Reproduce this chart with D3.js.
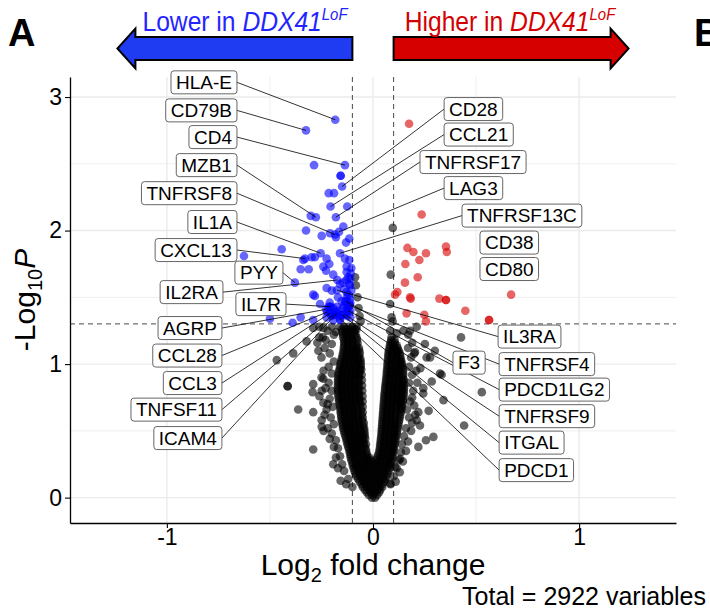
<!DOCTYPE html>
<html>
<head>
<meta charset="utf-8">
<script src="https://cdn.jsdelivr.net/npm/d3@7"></script>
<style>
body { margin: 0; background: #fff; }
svg { display: block; }
</style>
</head>
<body>
<script>
// Volcano plot, panel A: DDX41 LoF vs rest

// axis ticks and cut-offs
var xTicks = [-1, 0, 1];
var yTicks = [0, 1, 2, 3];
var fcCutoff = 0.1;
var pCutoff = 0.05;
var totalVariables = 2922;

// labelled genes (log2 fold change, -log10 p)
var labelGenes = ["HLA-E", "CD79B", "CD4", "MZB1", "TNFRSF8", "IL1A", "CXCL13", "PYY", "IL2RA", "IL7R",
    "AGRP", "CCL28", "CCL3", "TNFSF11", "ICAM4",
    "CD28", "CCL21", "TNFRSF17", "LAG3", "TNFRSF13C", "CD38", "CD80",
    "IL3RA", "F3", "TNFRSF4", "PDCD1LG2", "TNFRSF9", "ITGAL", "PDCD1"];
var labelFC = [-0.183, -0.325, -0.136, -0.277, -0.184, -0.254, -0.33, -0.379, -0.173, -0.205,
    -0.228, -0.222, -0.209, -0.193, -0.176,
    -0.15, -0.206, -0.18, -0.165, -0.16, 0.354, 0.358,
    -0.175, -0.13, -0.115, -0.12, -0.135, -0.15, -0.16];
var labelLP = [2.83, 2.75, 2.49, 2.10, 1.97, 1.83, 1.79, 1.61, 1.63, 1.43,
    1.41, 1.39, 1.38, 1.37, 1.38,
    2.33, 2.18, 2.10, 1.99, 1.83, 1.88, 1.84,
    1.554, 1.47, 1.44, 1.40, 1.37, 1.37, 1.34];
// where the repelled label boxes sit (data units, edge facing the point)
var labelAtFC = [-0.66, -0.66, -0.66, -0.66, -0.66, -0.66, -0.66, -0.437, -0.728, -0.422,
    -0.733, -0.733, -0.733, -0.733, -0.733,
    0.345, 0.345, 0.228, 0.345, 0.432, 0.519, 0.519,
    0.607, 0.388, 0.612, 0.612, 0.612, 0.612, 0.612];
var labelAtLP = [3.11, 2.90, 2.70, 2.49, 2.28, 2.064, 1.854, 1.685, 1.539, 1.449,
    1.27, 1.064, 0.858, 0.659, 0.446,
    2.91, 2.719, 2.513, 2.318, 2.112, 1.91, 1.712,
    1.206, 1.011, 1.0, 0.809, 0.61, 0.412, 0.206];
var noSegment = ["CD38", "CD80"];

// other genes [log2 fc, -log10 p]
var genes = [
    // lower
    [-0.286,2.49],[-0.157,2.41],[-0.157,2.41],[-0.215,2.28],[-0.189,2.28],[-0.125,2.18],[-0.302,2.11],[-0.144,2.03],
    [-0.325,2.0],[-0.249,1.96],[-0.209,1.98],[-0.18,1.95],[-0.131,1.91],[-0.115,1.94],[-0.443,1.86],[-0.626,1.81],
    [-0.282,1.80],[-0.225,1.79],[-0.136,1.79],[-0.115,1.78],[-0.351,1.71],[-0.312,1.71],[-0.212,1.75],[-0.128,1.73],
    [-0.128,1.69],[-0.108,1.68],[-0.228,1.70],[-0.193,1.67],[-0.147,1.61],[-0.115,1.60],[-0.225,1.57],[-0.282,1.51],
    [-0.128,1.50],[-0.152,1.47],[-0.209,1.43],[-0.176,1.43],[-0.5,1.34],[-0.39,1.31],[-0.351,1.35],[-0.29,1.33],
    [-0.257,1.45],[-0.217,1.43],[-0.193,1.42],[-0.168,1.40],[-0.209,1.39],[-0.184,1.37],[-0.152,1.37],[-0.128,1.40],
    [-0.112,1.44],[-0.225,1.35],[-0.16,1.33],[-0.193,1.33],[-0.112,1.49],[-0.128,1.54],[-0.112,1.59],[-0.16,1.60],
    [-0.241,1.73],[-0.338,1.78],[-0.298,1.80],[-0.29,1.52],[-0.2,1.55],[-0.14,1.56],[-0.12,1.65],[-0.135,1.47],
    [-0.145,1.42],[-0.125,1.36],[-0.11,1.35],[-0.17,1.50],[-0.105,1.72],[-0.11,1.64],[-0.13,1.63],[-0.105,1.55],
    [-0.12,1.52],[-0.11,1.46],[-0.14,1.44],[-0.125,1.42],[-0.18,1.39],[-0.2,1.36],[-0.165,1.36],[-0.21,1.46],
    [-0.11,1.40],
    // higher
    [0.175,2.80],[0.236,2.12],[0.167,1.87],[0.196,1.84],[0.257,1.83],[0.225,1.78],[0.157,1.75],[0.217,1.65],
    [0.155,1.61],[0.118,1.54],[0.107,1.52],[0.183,1.49],[0.322,1.49],[0.354,1.48],[0.354,1.48],[0.67,1.52],
    [0.448,1.40],[0.563,1.33],[0.563,1.33],[0.163,1.38],[0.249,1.37],[0.257,1.32],[0.18,1.50],
    // not significant, scattered
    [0.096,2.02],[0.086,1.67],[0.083,1.45],[0.09,1.35],[-0.087,1.65],[-0.083,1.59],[-0.075,1.5],[-0.07,1.42],
    [-0.065,1.36],[-0.06,1.32],[0.095,1.32],
    [-0.29,1.27],[-0.26,1.2],[-0.322,1.17],[-0.244,1.2],[-0.387,1.08],[-0.467,1.03],[-0.265,1.1],[-0.414,0.835],
    [-0.414,0.835],[-0.29,0.85],[-0.293,0.79],[-0.249,0.80],[-0.241,0.89],[-0.241,0.71],[-0.363,0.66],[-0.29,0.64],
    [-0.249,0.58],[-0.249,0.53],[-0.29,0.36],[-0.193,0.25],[-0.157,0.126],[-0.22,1.25],[-0.2,1.28],[-0.24,1.27],
    [-0.18,1.24],[-0.26,1.28],
    [0.083,1.25],[0.147,1.25],[0.18,1.25],[0.252,1.15],[0.204,1.09],[0.26,1.05],[0.333,0.92],[0.285,0.87],
    [0.244,0.78],[0.212,0.58],[0.228,0.54],[0.257,0.43],[0.22,0.38],[0.131,0.29],[0.107,0.23],[0.131,0.71],
    [0.427,1.2],[0.528,0.79],[0.442,0.54],[0.325,0.93],[0.342,0.73],[0.171,1.22],[0.212,1.28],[0.115,1.23],
    [0.277,1.05],[0.244,0.82],[0.293,0.455],[0.083,0.106],[0.23,0.97],[0.27,0.65],[0.3,1.1],
    // edges of the dense cloud
    [-0.19,1.22],[-0.2,1.15],[-0.21,1.08],[-0.19,1.02],[-0.215,0.98],[-0.2,0.93],[-0.215,0.86],[-0.2,0.8],
    [-0.21,0.74],[-0.195,0.68],[-0.205,0.6],[-0.19,0.55],[-0.2,0.48],[-0.18,0.43],[-0.17,0.37],[-0.16,0.31],
    [-0.15,0.25],[-0.14,0.2],[-0.12,0.14],[-0.1,0.08],[-0.235,1.12],[-0.24,0.95],[-0.23,0.82],[-0.25,1.05],
    [-0.225,0.66],[-0.22,0.52],[-0.23,1.18],[-0.25,0.9],[-0.22,0.7],[-0.235,0.62],[-0.21,0.44],[-0.19,0.38],
    [-0.18,0.3],[-0.26,0.76],[-0.24,0.5],[-0.17,0.22],[-0.13,0.1],[-0.27,1.16],
    [0.17,1.12],[0.185,1.05],[0.175,0.98],[0.19,0.92],[0.175,0.86],[0.195,0.8],[0.18,0.72],[0.165,0.66],
    [0.175,0.6],[0.16,0.52],[0.15,0.46],[0.14,0.4],[0.135,0.34],[0.125,0.28],[0.115,0.22],[0.1,0.16],
    [0.085,0.1],[0.21,0.95],[0.2,0.69],[0.19,1.16],[0.205,0.62],[0.2,1.08],[0.215,0.86],[0.19,0.75],
    [0.19,0.56],[0.17,0.42],[0.16,0.35],[0.145,0.27],[0.13,0.19],[0.11,0.12],[0.22,0.64],[0.185,0.5]
];

// dense V shaped cloud: [-log10 p, [log2 fc, ...]]
var coreRows = [
    [0.00, [-0.005, 0.01]],
    [0.02, [-0.02, 0.0, 0.02]],
    [0.04, [-0.03, -0.01, 0.01, 0.03]],
    [0.06, [-0.04, -0.02, 0, 0.02, 0.035]],
    [0.08, [-0.05, -0.03, -0.01, 0.01, 0.03, 0.045]],
    [0.10, [-0.055, -0.035, -0.015, 0.005, 0.025, 0.045]],
    [0.12, [-0.065, -0.045, -0.025, -0.005, 0.015, 0.035, 0.055]],
    [0.14, [-0.072, -0.052, -0.032, -0.012, 0.008, 0.028, 0.048, 0.06]],
    [0.16, [-0.08, -0.06, -0.04, -0.02, 0, 0.02, 0.04, 0.065]],
    [0.18, [-0.085, -0.065, -0.045, -0.025, -0.005, 0.015, 0.035, 0.055, 0.07]],
    [0.20, [-0.09, -0.07, -0.05, -0.03, -0.01, 0.01, 0.03, 0.05, 0.075]],
    [0.22, [-0.094, -0.074, -0.054, -0.034, -0.014, 0.006, 0.026, 0.046, 0.066, 0.08]],
    [0.24, [-0.098, -0.078, -0.058, -0.038, -0.018, 0.002, 0.022, 0.042, 0.062, 0.082]],
    [0.26, [-0.1, -0.08, -0.06, -0.04, -0.02, 0.0, 0.02, 0.04, 0.06, 0.08, 0.088]],
    [0.28, [-0.105, -0.085, -0.065, -0.045, -0.025, -0.01, 0.015, 0.032, 0.052, 0.072, 0.09]],
    [0.30, [-0.108, -0.088, -0.068, -0.048, -0.028, -0.018, 0.02, 0.04, 0.06, 0.08, 0.093]],
    [0.32, [-0.11, -0.09, -0.07, -0.05, -0.03, 0.025, 0.045, 0.065, 0.085, 0.096]],
    [0.34, [-0.113, -0.093, -0.073, -0.053, -0.032, 0.03, 0.05, 0.07, 0.09, 0.098]],
    [0.36, [-0.116, -0.096, -0.076, -0.056, -0.034, 0.032, 0.052, 0.072, 0.092, 0.1]],
    [0.38, [-0.12, -0.1, -0.08, -0.06, -0.04, 0.034, 0.054, 0.074, 0.094, 0.102]],
    [0.40, [-0.124, -0.104, -0.084, -0.064, -0.044, -0.034, 0.035, 0.055, 0.075, 0.095, 0.105]],
    [0.42, [-0.127, -0.107, -0.087, -0.067, -0.047, 0.037, 0.057, 0.077, 0.097, 0.108]],
    [0.44, [-0.13, -0.11, -0.09, -0.07, -0.05, -0.038, 0.038, 0.058, 0.078, 0.098, 0.11]],
    [0.46, [-0.134, -0.114, -0.094, -0.074, -0.054, -0.04, 0.04, 0.06, 0.08, 0.1, 0.112]],
    [0.48, [-0.138, -0.118, -0.098, -0.078, -0.058, -0.041, 0.041, 0.061, 0.081, 0.101, 0.115]],
    [0.50, [-0.141, -0.121, -0.101, -0.081, -0.061, -0.042, 0.042, 0.062, 0.082, 0.102, 0.117]],
    [0.52, [-0.145, -0.125, -0.105, -0.085, -0.065, -0.043, 0.043, 0.063, 0.083, 0.103, 0.12]],
    [0.54, [-0.147, -0.127, -0.107, -0.087, -0.067, -0.047, 0.044, 0.064, 0.084, 0.104, 0.122]],
    [0.56, [-0.15, -0.13, -0.11, -0.09, -0.07, -0.045, 0.045, 0.065, 0.085, 0.105, 0.125]],
    [0.58, [-0.152, -0.132, -0.112, -0.092, -0.072, -0.052, 0.046, 0.066, 0.086, 0.106, 0.127]],
    [0.60, [-0.154, -0.134, -0.114, -0.094, -0.074, -0.05, 0.047, 0.067, 0.087, 0.107, 0.13]],
    [0.62, [-0.155, -0.135, -0.115, -0.095, -0.075, -0.055, 0.048, 0.068, 0.088, 0.108, 0.132]],
    [0.64, [-0.157, -0.137, -0.117, -0.097, -0.077, -0.05, 0.049, 0.069, 0.089, 0.109, 0.135]],
    [0.66, [-0.158, -0.138, -0.118, -0.098, -0.078, -0.058, 0.05, 0.07, 0.09, 0.11, 0.13, 0.138]],
    [0.68, [-0.16, -0.14, -0.12, -0.1, -0.08, -0.05, 0.051, 0.071, 0.091, 0.111, 0.14]],
    [0.70, [-0.162, -0.142, -0.122, -0.102, -0.082, -0.062, 0.052, 0.072, 0.092, 0.112, 0.132, 0.142]],
    [0.72, [-0.165, -0.145, -0.125, -0.105, -0.085, -0.065, -0.05, 0.053, 0.073, 0.093, 0.113, 0.133, 0.145]],
    [0.74, [-0.166, -0.146, -0.126, -0.106, -0.086, -0.066, 0.054, 0.074, 0.094, 0.114, 0.134, 0.147]],
    [0.76, [-0.168, -0.148, -0.128, -0.108, -0.088, -0.068, -0.051, 0.055, 0.075, 0.095, 0.115, 0.135, 0.148]],
    [0.78, [-0.169, -0.149, -0.129, -0.109, -0.089, -0.069, 0.056, 0.076, 0.096, 0.116, 0.136, 0.15]],
    [0.80, [-0.17, -0.15, -0.13, -0.11, -0.09, -0.07, -0.052, 0.058, 0.078, 0.098, 0.118, 0.138, 0.15]],
    [0.82, [-0.17, -0.15, -0.13, -0.11, -0.09, -0.07, 0.059, 0.079, 0.099, 0.119, 0.139, 0.15]],
    [0.84, [-0.17, -0.15, -0.13, -0.11, -0.09, -0.07, -0.053, 0.06, 0.08, 0.1, 0.12, 0.14, 0.15]],
    [0.86, [-0.17, -0.15, -0.13, -0.11, -0.09, -0.07, 0.062, 0.082, 0.102, 0.122, 0.142]],
    [0.88, [-0.17, -0.15, -0.13, -0.11, -0.09, -0.07, -0.054, 0.063, 0.083, 0.103, 0.123, 0.143, 0.15]],
    [0.90, [-0.169, -0.149, -0.129, -0.109, -0.089, -0.069, 0.065, 0.085, 0.105, 0.125, 0.145]],
    [0.92, [-0.168, -0.148, -0.128, -0.108, -0.088, -0.068, -0.055, 0.066, 0.086, 0.106, 0.126, 0.147]],
    [0.94, [-0.166, -0.146, -0.126, -0.106, -0.086, -0.066, 0.067, 0.087, 0.107, 0.127, 0.146]],
    [0.96, [-0.163, -0.143, -0.123, -0.103, -0.083, -0.063, -0.057, 0.068, 0.088, 0.108, 0.128, 0.145]],
    [0.98, [-0.16, -0.14, -0.12, -0.1, -0.08, -0.06, 0.07, 0.09, 0.11, 0.13, 0.142]],
    [1.00, [-0.158, -0.138, -0.118, -0.098, -0.078, -0.059, 0.07, 0.09, 0.11, 0.13, 0.14]],
    [1.02, [-0.155, -0.135, -0.115, -0.095, -0.075, -0.06, 0.072, 0.092, 0.112, 0.132, 0.138]],
    [1.04, [-0.152, -0.132, -0.112, -0.092, -0.072, -0.061, 0.073, 0.093, 0.113, 0.135]],
    [1.06, [-0.148, -0.128, -0.108, -0.088, -0.068, 0.074, 0.094, 0.114, 0.132]],
    [1.08, [-0.146, -0.126, -0.106, -0.086, -0.064, 0.075, 0.095, 0.115, 0.13]],
    [1.10, [-0.142, -0.122, -0.102, -0.082, -0.067, 0.077, 0.097, 0.117, 0.125]],
    [1.12, [-0.142, -0.122, -0.102, -0.082, -0.068, 0.08, 0.1, 0.12]],
    [1.14, [-0.14, -0.12, -0.1, -0.08, 0.082, 0.102, 0.115]],
    [1.16, [-0.14, -0.12, -0.1, -0.075, 0.085, 0.105]],
    [1.18, [-0.14, -0.12, -0.1, -0.078, 0.088, 0.105]],
    [1.20, [-0.145, -0.125, -0.105, -0.08, 0.09]],
    [1.22, [-0.145, -0.125, -0.105, -0.085]],
    [1.24, [-0.15, -0.13, -0.11, -0.09]],
    [1.26, [-0.15, -0.13, -0.11, -0.09, -0.08]],
    [1.28, [-0.16, -0.14, -0.12, -0.1, -0.08]]
];

var font = "'Liberation Sans', Arial, Helvetica, sans-serif";
var blue = "#0000ff", red = "#d60000";

// panel box
var width = 710, height = 613;
var plot = {left: 70, right: 676, top: 77, bottom: 523};

var xScale = d3.scaleLinear().domain([-1.47, 1.47]).range([plot.left, plot.right]);
var yScale = d3.scaleLinear().domain([-0.19, 3.15]).range([plot.bottom, plot.top]);

var svg = d3.select("body").append("svg")
    .attr("width", width)
    .attr("height", height)
    .attr("font-family", font);

// grid, minor lines half way between major ones
function halves(t) {
    var out = [];
    for (var i = 0; i <= t.length; i++) {
        var a = i === 0 ? t[0] - 1 : t[i - 1];
        var b = i === t.length ? t[t.length - 1] + 1 : t[i];
        out.push((a + b) / 2);
    }
    return out;
}
var xDom = xScale.domain(), yDom = yScale.domain();
var xMinor = halves(xTicks).filter(function(v) { return v > xDom[0] && v < xDom[1]; });
var yMinor = halves(yTicks).filter(function(v) { return v > yDom[0] && v < yDom[1]; });

var grid = svg.append("g").attr("fill", "none");
grid.selectAll(".gx").data(xMinor.concat(xTicks)).enter().append("line")
    .attr("x1", function(d) { return xScale(d); })
    .attr("x2", function(d) { return xScale(d); })
    .attr("y1", plot.top).attr("y2", plot.bottom)
    .attr("stroke", "#ebebeb")
    .attr("stroke-width", function(d) { return xTicks.indexOf(d) >= 0 ? 1.4 : 0.8; });
grid.selectAll(".gy").data(yMinor.concat(yTicks)).enter().append("line")
    .attr("y1", function(d) { return yScale(d); })
    .attr("y2", function(d) { return yScale(d); })
    .attr("x1", plot.left).attr("x2", plot.right)
    .attr("stroke", "#ebebeb")
    .attr("stroke-width", function(d) { return yTicks.indexOf(d) >= 0 ? 1.4 : 0.8; });

// cut-off lines
var pLine = -Math.log10(pCutoff);
svg.selectAll(".vcut").data([-fcCutoff, fcCutoff]).enter().append("line")
    .attr("x1", function(d) { return xScale(d); })
    .attr("x2", function(d) { return xScale(d); })
    .attr("y1", plot.top).attr("y2", plot.bottom)
    .attr("stroke", "#333").attr("stroke-width", 0.9).attr("stroke-dasharray", "5,4");
svg.append("line")
    .attr("x1", plot.left).attr("x2", plot.right)
    .attr("y1", yScale(pLine)).attr("y2", yScale(pLine))
    .attr("stroke", "#333").attr("stroke-width", 0.9).attr("stroke-dasharray", "5,4");

// all points in one list
var pts = [];
coreRows.forEach(function(r) {
    r[1].forEach(function(fc) { pts.push({fc: fc, lp: r[0]}); });
});
genes.forEach(function(g) { pts.push({fc: g[0], lp: g[1]}); });
labelGenes.forEach(function(g, i) { pts.push({fc: labelFC[i], lp: labelLP[i], gene: g}); });

function group(d) {
    if (d.lp > pLine && d.fc < -fcCutoff) return "down";
    if (d.lp > pLine && d.fc > fcCutoff) return "up";
    return "ns";
}
var order = {ns: 0, down: 1, up: 1};
pts.sort(function(a, b) { return order[group(a)] - order[group(b)]; });

svg.append("g").selectAll(".dot")
    .data(pts)
    .enter().append("circle")
    .attr("class", "dot")
    .attr("r", 4.3)
    .attr("cx", function(d) { return xScale(d.fc); })
    .attr("cy", function(d) { return yScale(d.lp); })
    .attr("fill", function(d) {
        var g = group(d);
        return g === "down" ? blue : g === "up" ? red : "#000";
    })
    .attr("fill-opacity", 0.6);

// repelled labels
var labels = labelGenes.map(function(g, i) {
    return {gene: g, fc: labelFC[i], lp: labelLP[i], atFc: labelAtFC[i], atLp: labelAtLP[i]};
});
var padX = 5, boxH = 23;

svg.append("g").selectAll("line")
    .data(labels.filter(function(d) { return noSegment.indexOf(d.gene) < 0; }))
    .enter().append("line")
    .attr("x1", function(d) { return xScale(d.atFc); })
    .attr("y1", function(d) { return yScale(d.atLp); })
    .attr("x2", function(d) { return xScale(d.fc); })
    .attr("y2", function(d) { return yScale(d.lp); })
    .attr("stroke", "#000")
    .attr("stroke-width", 0.8);

var lab = svg.append("g").selectAll("g")
    .data(labels)
    .enter().append("g");
var rects = lab.append("rect");
lab.append("text")
    .attr("x", function(d) { return d.atFc < d.fc ? xScale(d.atFc) - padX : xScale(d.atFc) + padX; })
    .attr("y", function(d) { return yScale(d.atLp); })
    .attr("dy", "0.36em")
    .attr("text-anchor", function(d) { return d.atFc < d.fc ? "end" : "start"; })
    .attr("font-size", 19)
    .text(function(d) { return d.gene; })
    .each(function(d) { d.w = this.getComputedTextLength(); });
rects
    .attr("x", function(d) { return d.atFc < d.fc ? xScale(d.atFc) - d.w - 2 * padX : xScale(d.atFc); })
    .attr("y", function(d) { return yScale(d.atLp) - boxH / 2; })
    .attr("width", function(d) { return d.w + 2 * padX; })
    .attr("height", boxH)
    .attr("rx", 3)
    .attr("fill", "#fff")
    .attr("stroke", "#555")
    .attr("stroke-width", 0.9);

// axes
var xAxis = d3.axisBottom(xScale).tickValues(xTicks).tickSize(5).tickPadding(1).tickSizeOuter(0)
    .tickFormat(function(d) { return d < 0 ? "-" + Math.abs(d) : d; });
var yAxis = d3.axisLeft(yScale).tickValues(yTicks).tickSize(5).tickPadding(3).tickSizeOuter(0)
    .tickFormat(d3.format("d"));

var gx = svg.append("g")
    .attr("transform", "translate(0," + plot.bottom + ")")
    .call(xAxis);
var gy = svg.append("g")
    .attr("transform", "translate(" + plot.left + ",0)")
    .call(yAxis);
[gx, gy].forEach(function(g) {
    g.attr("font-family", font).attr("font-size", 23);
    g.select(".domain").attr("stroke", "#000").attr("stroke-width", 1.3);
    g.selectAll(".tick line").attr("stroke", "#000").attr("stroke-width", 1.1);
    g.selectAll(".tick text").attr("fill", "#000");
});

// axis titles
var xt = svg.append("text")
    .attr("x", (plot.left + plot.right) / 2)
    .attr("y", 575)
    .attr("text-anchor", "middle")
    .attr("font-size", 30);
xt.append("tspan").text("Log");
xt.append("tspan").attr("font-size", 20).attr("dy", 7).text("2");
xt.append("tspan").attr("dy", -7).text(" fold change");

var yt = svg.append("text")
    .attr("transform", "translate(35," + (plot.top + plot.bottom) / 2 + ") rotate(-90)")
    .attr("text-anchor", "middle")
    .attr("font-size", 30);
yt.append("tspan").text("-Log");
yt.append("tspan").attr("font-size", 20).attr("dy", 7).text("10");
yt.append("tspan").attr("dy", -7).attr("font-style", "italic").text("P");

svg.append("text")
    .attr("x", 706)
    .attr("y", 605)
    .attr("text-anchor", "end")
    .attr("font-size", 25)
    .text("Total = " + totalVariables + " variables");

// direction arrows above the panel
var arrowMid = 48.5, bodyHalf = 11.5, headHalf = 20, headLen = 18;
function arrow(tail, tip) {
    var s = tip < tail ? 1 : -1;
    var base = tip + s * headLen;
    return "M" + tail + "," + (arrowMid - bodyHalf) +
        "L" + base + "," + (arrowMid - bodyHalf) +
        "L" + base + "," + (arrowMid - headHalf) +
        "L" + tip + "," + arrowMid +
        "L" + base + "," + (arrowMid + headHalf) +
        "L" + base + "," + (arrowMid + bodyHalf) +
        "L" + tail + "," + (arrowMid + bodyHalf) + "Z";
}
svg.append("path")
    .attr("d", arrow(xScale(-fcCutoff), xScale(-1.24)))
    .attr("fill", "#1f3cf2").attr("stroke", "#000").attr("stroke-width", 2);
svg.append("path")
    .attr("d", arrow(xScale(fcCutoff), xScale(1.24)))
    .attr("fill", "#d70000").attr("stroke", "#000").attr("stroke-width", 2);

// narrow-looking headline text
function direction(x, word, colour) {
    var t = svg.append("text")
        .attr("transform", "translate(" + x + ",31) scale(0.88,1)")
        .attr("text-anchor", "middle")
        .attr("font-size", 28)
        .attr("fill", colour);
    t.append("tspan").text(word + " in ");
    t.append("tspan").attr("font-style", "italic").text("DDX41");
    t.append("tspan").attr("font-style", "italic").attr("font-size", 17).attr("dy", -11).text("LoF");
}
direction(245, "Lower", "#2424ff");
direction(510, "Higher", "#d40000");

// panel letters
svg.append("text").attr("x", 8).attr("y", 46)
    .attr("font-size", 38).attr("font-weight", "bold").text("A");
svg.append("text").attr("x", 694).attr("y", 46)
    .attr("font-size", 38).attr("font-weight", "bold").text("B");
</script>
</body>
</html>
